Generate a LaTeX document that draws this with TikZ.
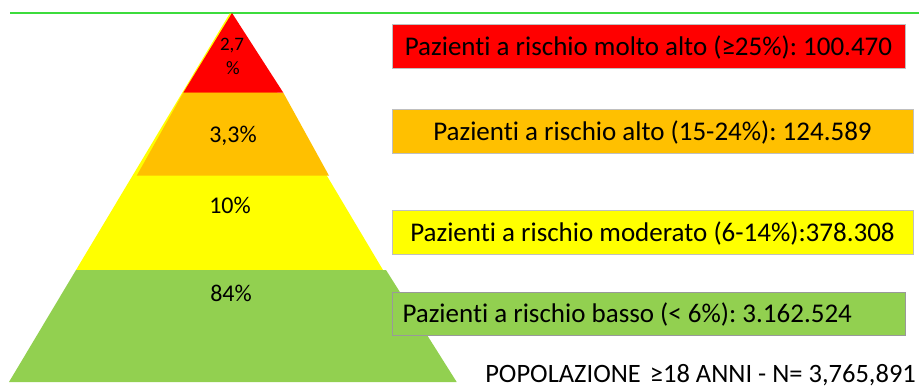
\documentclass[tikz,border=0pt]{standalone}
\usepackage{fontspec}
\setmainfont{Carlito}[Ligatures=NoCommon]
\frenchspacing
\definecolor{rischioRosso}{RGB}{255,0,0}
\definecolor{rischioArancio}{RGB}{255,192,0}
\definecolor{rischioGiallo}{RGB}{255,255,0}
\definecolor{rischioVerde}{RGB}{146,208,80}
\definecolor{lineaVerde}{RGB}{60,220,60}
\definecolor{bordoGrigio}{RGB}{191,191,191}
\tikzset{
	fascia/.style={draw=bordoGrigio, line width=1pt, minimum height=44pt, inner sep=0pt,
		text height=18pt, text depth=0pt, font=\fontsize{27}{30}\selectfont\frenchspacing},
	perc/.style={inner sep=0pt, anchor=base, font=\fontsize{24}{27}\selectfont},
	percpiccola/.style={perc, font=\fontsize{19}{22}\selectfont},
}

\begin{document}
\begin{tikzpicture}[x=1pt, y=-1pt]
			\useasboundingbox (0,0) rectangle (919,388);
			%%%%% START %%%%%
			
			\draw[color=lineaVerde, line width=1.5pt] (10, 13) -- (919, 13);
			
			% piramide
			\fill[rischioGiallo] (230, 13) -- (383, 270) -- (76, 270) -- cycle;
			\fill[rischioVerde] (76, 270) -- (386, 270) -- (456.7, 382) -- (9, 382) -- cycle;
			\fill[rischioArancio] (183.3, 92.7) -- (283.3, 92.7) -- (329, 175.7) -- (136.7, 175.7) -- cycle;
			\fill[rischioRosso] (232, 13) -- (283.3, 92.7) -- (183.3, 92.7) -- cycle;
			
			\node[percpiccola] (p27) at (232, 50.7) {2,7};
			\node[percpiccola] (p27b) at (233, 74) {\%};
			\node[perc] (p33) at (233, 142) {3,3\%};
			\node[perc] (p10) at (230, 213) {10\%};
			\node[perc] (p84) at (231, 301) {84\%};
			
			% fasce di rischio
			\node[fascia, fill=rischioRosso, minimum width=513pt] (molto) at (648.5, 46) {Pazienti a rischio molto alto (≥25\%): 100.470};
			\node[fascia, fill=rischioArancio, minimum width=521pt] (alto) at (652.5, 131) {Pazienti a rischio alto (15-24\%): 124.589};
			\node[fascia, fill=rischioGiallo, minimum width=521pt] (moderato) at (652.5, 232) {Pazienti a rischio moderato (6-14\%):378.308};
			\node[fascia, fill=rischioVerde, draw=black!40, minimum height=43pt, anchor=west,
				inner xsep=10pt, text width=493pt, align=flush left] (basso) at (392, 313.5) {Pazienti a rischio basso (< 6\%): 3.162.524};
			
			\node[inner sep=0pt, anchor=base east, font=\fontsize{26.5}{30}\selectfont\frenchspacing] (popolazione) at (916, 382) {POPOLAZIONE\hspace{9pt}≥18 ANNI - N= 3,765,891};
			
			%%%%% END %%%%%
\end{tikzpicture}
\end{document}
